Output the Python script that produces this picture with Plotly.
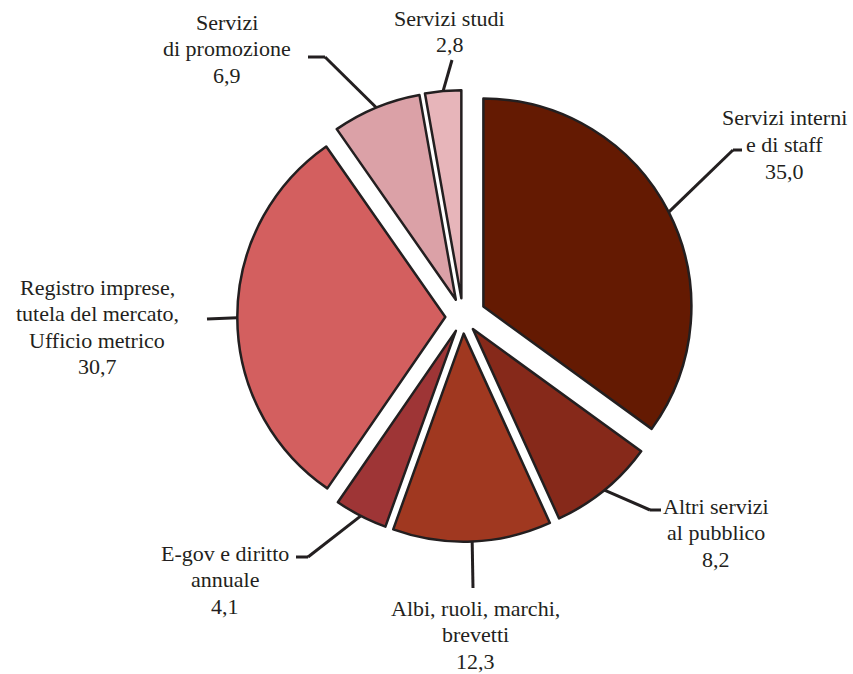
import math
import plotly.graph_objects as go

# Cost shares by function (%), clockwise from 12 o'clock
labels = [
    "Servizi interni<br>e di staff",
    "Altri servizi<br>al pubblico",
    "Albi, ruoli, marchi,<br>brevetti",
    "E-gov e diritto<br>annuale",
    "Registro imprese,<br>tutela del mercato,<br>Ufficio metrico",
    "Servizi<br>di promozione",
    "Servizi studi",
]
values = [35.0, 8.2, 12.3, 4.1, 30.7, 6.9, 2.8]
value_text = ["35,0", "8,2", "12,3", "4,1", "30,7", "6,9", "2,8"]

colors = ["#641a02", "#86291a", "#a03820", "#9e3536", "#d35f5f", "#dba1a7", "#e7b5ba"]
pulls = [0.11, 0.075, 0.08, 0.075, 0.085, 0.09, 0.09]

W, H = 853, 674
CX, CY = 463, 317          # pie centre in pixels
BOX = 461.8                # side of the square pie box in pixels
R = BOX / (2 + 2 * max(pulls))
INK = "#231f20"
FONT = "Liberation Serif, Times New Roman, serif"

fig = go.Figure(go.Pie(
    labels=[l.replace("<br>", " ") for l in labels],
    values=values,
    sort=False,
    direction="clockwise",
    rotation=0,
    pull=pulls,
    marker=dict(colors=colors, line=dict(color=INK, width=2.5)),
    textinfo="none",
    hoverinfo="label+value",
    domain=dict(x=[(CX - BOX / 2) / W, (CX + BOX / 2) / W],
                y=[(H - CY - BOX / 2) / H, (H - CY + BOX / 2) / H]),
    showlegend=False,
))


def px(x, y):
    return x / W, 1 - y / H


# leader-line bends and text placement (pixels): elbow points after the arc anchor,
# text centre x, first line centre y
callouts = [
    dict(pts=[(733, 150), (742, 150)], tx=784, ty=118),
    dict(pts=[(650, 510), (661, 510)], tx=716, ty=506),
    dict(pts=[(473, 588)], tx=475, ty=608),
    dict(pts=[(308, 557), (296, 557)], tx=225, ty=553),
    dict(pts=[(207, 319)], tx=97, ty=287),
    dict(pts=[(325, 57), (308, 57)], tx=227, ty=22),
    dict(pts=[(452, 60)], tx=450, ty=18),
]

LINE_H = 26.5
total = sum(values)
start = 0.0
for i, v in enumerate(values):
    frac = v / total
    mid = (start + frac / 2) * 2 * math.pi
    start += frac
    reach = R * (1 + pulls[i])
    ax = CX + reach * math.sin(mid)
    ay = CY - reach * math.cos(mid)
    pts = [(ax, ay)] + callouts[i]["pts"]
    for (x0, y0), (x1, y1) in zip(pts[:-1], pts[1:]):
        a0, b0 = px(x0, y0)
        a1, b1 = px(x1, y1)
        fig.add_shape(type="line", xref="paper", yref="paper",
                      x0=a0, y0=b0, x1=a1, y1=b1,
                      line=dict(color=INK, width=3))
    lines = labels[i].split("<br>") + [value_text[i]]
    for k, t in enumerate(lines):
        xx, yy = px(callouts[i]["tx"], callouts[i]["ty"] + k * LINE_H)
        fig.add_annotation(xref="paper", yref="paper", x=xx, y=yy,
                           text=t, showarrow=False, xanchor="center",
                           yanchor="middle",
                           font=dict(family=FONT, size=22, color=INK))

fig.update_layout(
    width=W, height=H,
    margin=dict(l=0, r=0, t=0, b=0),
    paper_bgcolor="white",
    plot_bgcolor="white",
    font=dict(family=FONT),
)

fig.write_html("out.html")
